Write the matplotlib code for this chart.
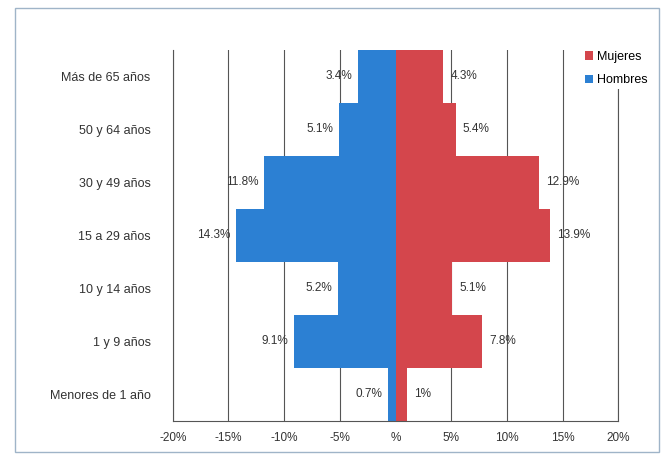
import matplotlib.pyplot as plt
from matplotlib.patches import Rectangle

plt.rcParams['font.family'] = ['Liberation Sans Narrow', 'Liberation Sans', 'DejaVu Sans']

# age groups, bottom to top
groups = ['Menores de 1 año', '1 y 9 años', '10 y 14 años', '15 a 29 años',
          '30 y 49 años', '50 y 64 años', 'Más de 65 años']
hombres = [0.7, 9.1, 5.2, 14.3, 11.8, 5.1, 3.4]
mujeres = [1.0, 7.8, 5.1, 13.9, 12.9, 5.4, 4.3]
hombres_lbl = ['0.7%', '9.1%', '5.2%', '14.3%', '11.8%', '5.1%', '3.4%']
mujeres_lbl = ['1%', '7.8%', '5.1%', '13.9%', '12.9%', '5.4%', '4.3%']
xticks = [-20, -15, -10, -5, 0, 5, 10, 15, 20]
xtick_lbl = ['-20%', '-15%', '-10%', '-5%', '%', '5%', '10%', '15%', '20%']

red = '#D4464C'
blue = '#2C80D3'

fig = plt.figure(figsize=(6.67, 4.57), dpi=100)
ax = fig.add_axes([0.259, 0.079, 0.668, 0.812])

y = range(len(groups))
ax.barh(y, mujeres, height=1.0, color=red, label='Mujeres', zorder=2)
ax.barh(y, [-v for v in hombres], height=1.0, color=blue, label='Hombres', zorder=2)

for i in y:
    ax.annotate(hombres_lbl[i], (-hombres[i], i), xytext=(-4, 0),
                textcoords='offset points', ha='right', va='center',
                fontsize=8.5, color='#333333', zorder=3)
    ax.annotate(mujeres_lbl[i], (mujeres[i], i), xytext=(5, 0),
                textcoords='offset points', ha='left', va='center',
                fontsize=8.5, color='#333333', zorder=3)

ax.set_xlim(-20, 20)
ax.set_ylim(-0.5, len(groups) - 0.5)
ax.set_xticks(xticks)
ax.set_xticklabels(xtick_lbl, fontsize=8.5, color='#333333')
ax.set_yticks(list(y))
ax.set_yticklabels(groups, fontsize=9, color='#333333')
ax.tick_params(length=0)
ax.tick_params(axis='y', pad=16)
ax.tick_params(axis='x', pad=8)

ax.grid(axis='x', color='#555555', linewidth=0.8, zorder=1)
ax.grid(axis='y', visible=False)
ax.spines['top'].set_visible(False)
for side in ['left', 'right', 'bottom']:
    ax.spines[side].set_color('#555555')
    ax.spines[side].set_linewidth(0.8)

ax.legend(loc='upper left', bbox_to_anchor=(0.905, 1.02), frameon=True,
          edgecolor='none', facecolor='white', framealpha=1.0, fontsize=9,
          handlelength=0.7, handleheight=0.7, handletextpad=0.3,
          labelspacing=0.9, borderpad=0.2)

# light border around the whole chart
fig.patches.append(Rectangle((0.022, 0.012), 0.966, 0.97, transform=fig.transFigure,
                             fill=False, edgecolor='#9FB4C8', linewidth=1.0))

plt.savefig('out.png', dpi=100)
